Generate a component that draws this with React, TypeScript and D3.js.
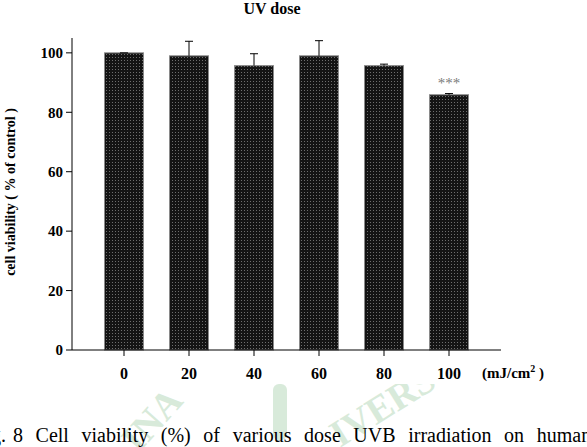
import React from 'react';
import * as d3 from 'd3';

// doses (mJ/cm2) and cell viability (% of control)
const doses = ['0', '20', '40', '60', '80', '100'];
const viability = [100, 99.0, 95.7, 99.0, 95.7, 85.9];
const errors = [0, 4.9, 4.0, 5.1, 0.5, 0.4];
const significance = ['', '', '', '', '', '***'];
const yTicks = [0, 20, 40, 60, 80, 100];

const caption = '8 Cell viability (%) of various dose UVB irradiation on human';
// visible fragments of the faint page watermark
const watermarkLeft = 'INA';
const watermarkRight = 'IVERS';

const W = 587;
const H = 447;
const margin = { top: 38, right: 86, bottom: 97, left: 72 };

const App: React.FC = () => {
    const innerW = W - margin.left - margin.right;
    const innerH = H - margin.top - margin.bottom;

    const x = d3.scaleBand<string>()
        .domain(doses)
        .range([0, innerW])
        .paddingInner(0.4)
        .paddingOuter(0.5);

    const y = d3.scaleLinear()
        .domain([0, 105])
        .range([innerH, 0]);

    const serif = '"Liberation Serif", "Times New Roman", serif';
    const green = '#3f9a4a';

    return (
        <svg width={W} height={H} style={{ display: 'block', position: 'absolute', left: 0, top: 0, background: '#fff' }}>
            <defs>
                <pattern id="dots" width={3} height={3} patternUnits="userSpaceOnUse">
                    <rect width={3} height={3} fill="#141414" />
                    <rect x={1} y={1} width={1} height={1} fill="#6e6e6e" />
                </pattern>
                <clipPath id="below">
                    <rect x={0} y={384} width={W} height={H - 384} />
                </clipPath>
            </defs>

            {/* watermark, mostly hidden behind the opaque chart image */}
            <g clipPath="url(#below)" opacity={0.2} fill={green}>
                <text transform="translate(138,454) rotate(-48)" fontFamily={serif} fontWeight="bold" fontSize={38}>{watermarkLeft}</text>
                <text transform="translate(340,448) rotate(-32)" fontFamily={serif} fontWeight="bold" fontSize={38}>{watermarkRight}</text>
                <rect x={273} y={384} width={14} height={56} rx={6} />
            </g>

            <text x={272} y={14} textAnchor="middle" fontFamily={serif} fontWeight="bold" fontSize={16}>UV dose</text>

            <g transform={`translate(${margin.left},${margin.top})`}>
                {/* bars */}
                {doses.map((d, i) => (
                    <rect key={d}
                        x={x(d)}
                        y={y(viability[i])}
                        width={x.bandwidth()}
                        height={innerH - y(viability[i])}
                        fill="url(#dots)"
                        stroke="#8a8a8a"
                        strokeWidth={1} />
                ))}

                {/* error bars (upper only) */}
                {doses.map((d, i) => {
                    const cx = (x(d) ?? 0) + x.bandwidth() / 2;
                    const top = y(viability[i] + errors[i]);
                    return (
                        <g key={'e' + d} stroke="#000" strokeWidth={1}>
                            <line x1={cx} x2={cx} y1={y(viability[i])} y2={top} />
                            <line x1={cx - 4} x2={cx + 4} y1={top} y2={top} />
                        </g>
                    );
                })}

                {doses.map((d, i) => significance[i] ? (
                    <text key={'s' + d}
                        x={(x(d) ?? 0) + x.bandwidth() / 2}
                        y={y(viability[i] + errors[i]) - 6}
                        textAnchor="middle"
                        fontFamily={serif}
                        fontSize={15}
                        fill="#7a7a7a">{significance[i]}</text>
                ) : null)}

                {/* y axis */}
                <line x1={0} x2={0} y1={0} y2={innerH} stroke="#000" />
                {yTicks.map(t => (
                    <g key={'y' + t} transform={`translate(0,${y(t)})`}>
                        <line x1={-6} x2={0} stroke="#000" />
                        <text x={-9} dy="0.35em" textAnchor="end" fontFamily={serif} fontWeight="bold" fontSize={15}>{t}</text>
                    </g>
                ))}

                {/* x axis */}
                <line x1={0} x2={innerW} y1={innerH} y2={innerH} stroke="#000" />
                {doses.map(d => (
                    <g key={'x' + d} transform={`translate(${(x(d) ?? 0) + x.bandwidth() / 2},${innerH})`}>
                        <line y1={0} y2={6} stroke="#000" />
                        <text y={29} textAnchor="middle" fontFamily={serif} fontWeight="bold" fontSize={16}>{d}</text>
                    </g>
                ))}
                <text x={innerW - 19} y={innerH + 28} fontFamily={serif} fontWeight="bold" fontSize={15}>
                    (mJ/cm<tspan dy={-6} fontSize={10}>2</tspan><tspan dy={6}> )</tspan>
                </text>

                <text transform={`translate(${-57},${innerH / 2 - 2}) rotate(-90)`}
                    textAnchor="middle" fontFamily={serif} fontWeight="bold" fontSize={14}>
                    cell viability ( % of control )
                </text>
            </g>

            {/* figure caption (cut off by the crop) */}
            <text x={6} y={442} textAnchor="end" fontFamily={serif} fontSize={20}>Fig.</text>
            <text x={13} y={442} fontFamily={serif} fontSize={20} wordSpacing={7.6}>{caption}</text>
        </svg>
    );
};

export default App;
